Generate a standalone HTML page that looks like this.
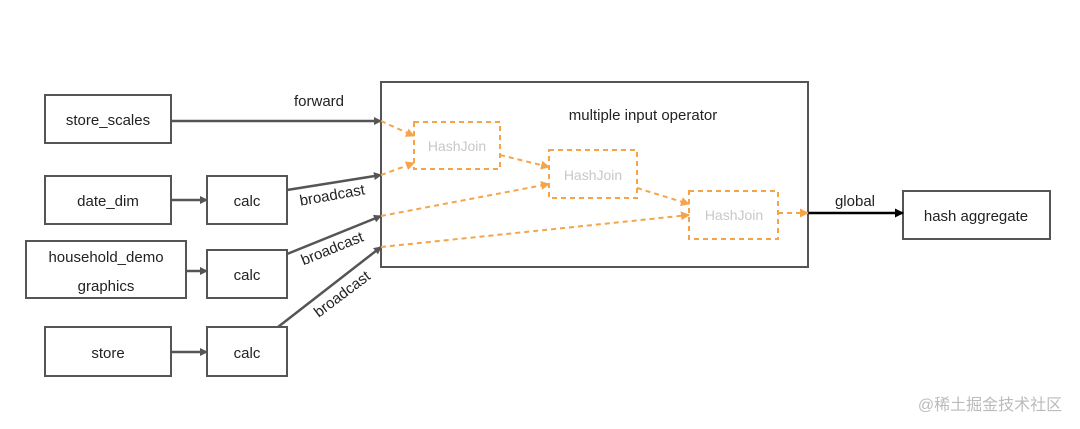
<!DOCTYPE html>
<html><head><meta charset="utf-8"><style>
body{margin:0;background:#fff}
svg{display:block;font-family:"Liberation Sans","Noto Sans CJK SC",sans-serif}
</style></head><body>
<svg width="1080" height="429" viewBox="0 0 1080 429">
<defs>
<marker id="ag" markerWidth="8" markerHeight="8" refX="7" refY="4" orient="auto" markerUnits="userSpaceOnUse"><path d="M0,0L8,4L0,8z" fill="#555"/></marker>
<marker id="ab" markerWidth="9" markerHeight="9" refX="8" refY="4.5" orient="auto" markerUnits="userSpaceOnUse"><path d="M0,0L9,4.5L0,9z" fill="#000"/></marker>
<marker id="ao" markerWidth="9" markerHeight="9" refX="8" refY="4.5" orient="auto" markerUnits="userSpaceOnUse"><path d="M0,0L9,4.5L0,9z" fill="#f5a44a"/></marker>
</defs>
<g fill="#fff" stroke="#555" stroke-width="2">
<rect x="45" y="95" width="126" height="48"/>
<rect x="45" y="176" width="126" height="48"/>
<rect x="26" y="241" width="160" height="57"/>
<rect x="45" y="327" width="126" height="49"/>
<rect x="207" y="176" width="80" height="48"/>
<rect x="207" y="250" width="80" height="48"/>
<rect x="207" y="327" width="80" height="49"/>
<rect x="381" y="82" width="427" height="185"/>
<rect x="903" y="191" width="147" height="48"/>
</g>
<g stroke="#555" stroke-width="2.5" fill="none" marker-end="url(#ag)">
<line x1="171" y1="121" x2="381" y2="121"/>
<line x1="171" y1="200" x2="207" y2="200"/>
<line x1="186" y1="271" x2="207" y2="271"/>
<line x1="171" y1="352" x2="207" y2="352"/>
<line x1="287" y1="190" x2="381" y2="175"/>
<line x1="287" y1="254" x2="381" y2="216"/>
<line x1="278" y1="327" x2="381" y2="247"/>
</g>
<line x1="808" y1="213" x2="903" y2="213" stroke="#000" stroke-width="2.5" marker-end="url(#ab)"/>
<g fill="none" stroke="#f5a44a" stroke-width="2" stroke-dasharray="5,4">
<rect x="414" y="122" width="86" height="47"/>
<rect x="549" y="150" width="88" height="48"/>
<rect x="689" y="191" width="89" height="48"/>
<g marker-end="url(#ao)">
<line x1="381" y1="121" x2="414" y2="136"/>
<line x1="381" y1="175" x2="414" y2="163"/>
<line x1="381" y1="216" x2="549" y2="184"/>
<line x1="381" y1="247" x2="689" y2="215"/>
<line x1="500" y1="155" x2="549" y2="167"/>
<line x1="637" y1="188" x2="689" y2="204"/>
<line x1="778" y1="213" x2="808" y2="213"/>
</g></g>
<g font-size="15" fill="#222" text-anchor="middle">
<text x="108" y="125">store_scales</text>
<text x="108" y="206">date_dim</text>
<text x="106" y="262">household_demo</text>
<text x="106" y="291">graphics</text>
<text x="108" y="358">store</text>
<text x="247" y="206">calc</text>
<text x="247" y="280">calc</text>
<text x="247" y="358">calc</text>
<text x="319" y="106">forward</text>
<text x="643" y="120">multiple input operator</text>
<text x="855" y="206">global</text>
<text x="976" y="221">hash aggregate</text>
<text transform="translate(333,200) rotate(-10)">broadcast</text>
<text transform="translate(334,253) rotate(-22)">broadcast</text>
<text transform="translate(345,298) rotate(-37)">broadcast</text>
</g>
<g font-size="14" fill="#c8c8c8" text-anchor="middle">
<text x="457" y="151">HashJoin</text>
<text x="593" y="180">HashJoin</text>
<text x="734" y="220">HashJoin</text>
</g>
<text x="990" y="410" font-size="16" fill="#bbb" text-anchor="middle">@稀土掘金技术社区</text>
</svg>
</body></html>
